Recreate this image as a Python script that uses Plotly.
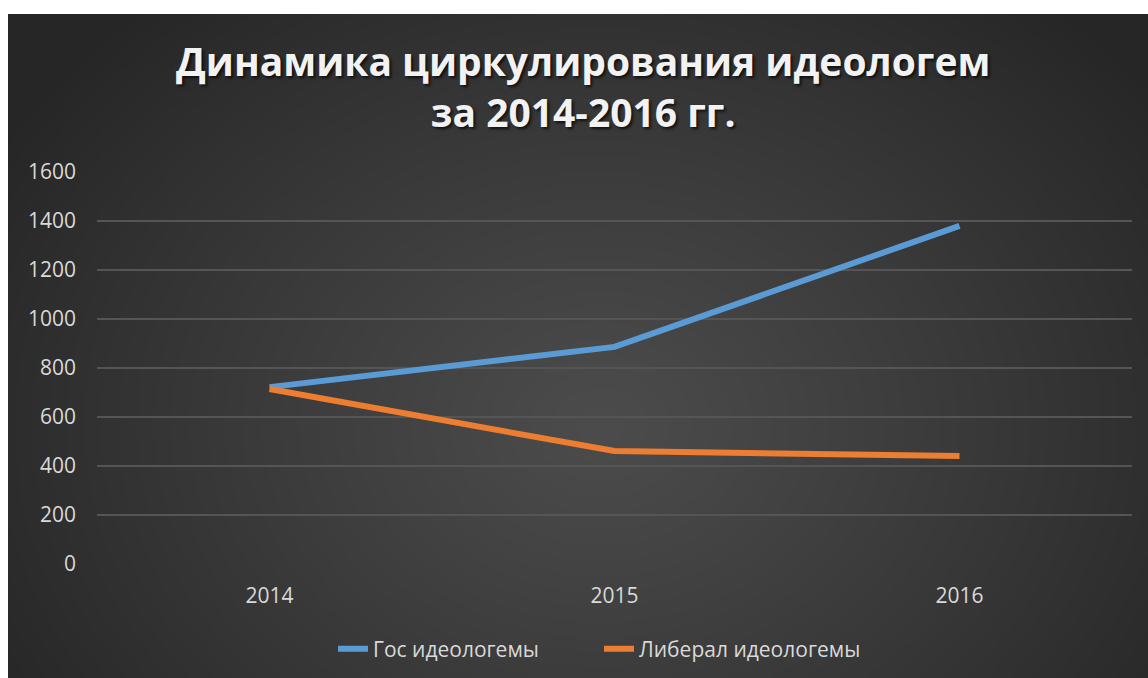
import base64
import struct
import zlib

import numpy as np
import plotly.graph_objects as go

# ---- data ----
years = ["2014", "2015", "2016"]
gos = [722, 886, 1380]
liberal = [714, 461, 441]
series_names = ["Гос идеологемы", "Либерал идеологемы"]
title_text = "Динамика циркулирования идеологем<br>за 2014-2016 гг."

W, H = 1148, 678
ML, MR, MT, MB = 97, 16, 172, 114
PW, PH = W - ML - MR, H - MT - MB


# ---- radial gradient background as a PNG (styling only) ----
def make_png(arr):
    h, w, _ = arr.shape
    raw = b"".join(b"\x00" + arr[i].tobytes() for i in range(h))

    def chunk(tag, data):
        c = struct.pack(">I", len(data)) + tag + data
        return c + struct.pack(">I", zlib.crc32(tag + data) & 0xFFFFFFFF)

    ihdr = struct.pack(">IIBBBBB", w, h, 8, 2, 0, 0, 0)
    return (b"\x89PNG\r\n\x1a\n" + chunk(b"IHDR", ihdr)
            + chunk(b"IDAT", zlib.compress(raw, 9)) + chunk(b"IEND", b""))


gw, gh = 380, 222
yy, xx = np.mgrid[0:gh, 0:gw]
fx = (xx + 0.5) / gw
fy = (yy + 0.5) / gh
d = np.sqrt(((fx - 0.52) / 0.62) ** 2 + ((fy - 0.62) / 0.85) ** 2)
d = np.clip(d, 0, 1)
c_center, c_edge = 76.0, 38.0
v = c_center + (c_edge - c_center) * d ** 1.1
img = np.repeat(v[:, :, None], 3, axis=2).astype(np.uint8)
uri = "data:image/png;base64," + base64.b64encode(make_png(img)).decode()

bx0, by0, bx1, by1 = 8, 14, 1148, 678

fig = go.Figure()
fig.add_trace(go.Scatter(
    x=years, y=gos, name=series_names[0], mode="lines",
    line=dict(color="#5b9bd5", width=6),
))
fig.add_trace(go.Scatter(
    x=years, y=liberal, name=series_names[1], mode="lines",
    line=dict(color="#ed7d31", width=6),
))

tick_font = dict(family="Open Sans", size=21, color="#d9d9d9")

fig.update_layout(
    width=W, height=H,
    margin=dict(l=ML, r=MR, t=MT, b=MB, autoexpand=False),
    paper_bgcolor="white",
    plot_bgcolor="rgba(0,0,0,0)",
    images=[dict(
        source=uri, xref="paper", yref="paper",
        x=(bx0 - ML) / PW, y=(H - MB - by0) / PH,
        sizex=(bx1 - bx0) / PW, sizey=(by1 - by0) / PH,
        xanchor="left", yanchor="top", sizing="stretch", layer="below",
    )],
    xaxis=dict(
        type="category", range=[-0.5, 2.5],
        showgrid=False, zeroline=False, showline=False,
        ticks="", tickfont=tick_font, ticklabelstandoff=17,
    ),
    yaxis=dict(
        range=[0, 1600], dtick=200,
        showgrid=True, gridcolor="#555555", gridwidth=1.5,
        zeroline=False, showline=False, ticks="",
        tickfont=tick_font, ticklabelstandoff=20,
    ),
    legend=dict(
        orientation="h", x=(333 - ML) / PW, xanchor="left",
        y=(564 - 649) / PH, yanchor="middle",
        font=dict(family="Open Sans", size=21, color="#d9d9d9"),
        bgcolor="rgba(0,0,0,0)", entrywidth=221, entrywidthmode="pixels",
    ),
    annotations=[dict(
        text=title_text, xref="paper", yref="paper",
        x=(583 - ML) / PW, y=(H - MB - 86) / PH, yanchor="middle",
        showarrow=False,
        font=dict(family="Open Sans", size=39, color="#f2f2f2", weight="bold",
                  shadow="2px 2px 3px rgba(0,0,0,0.7)"),
    )],
)

fig.write_html("out.html")
